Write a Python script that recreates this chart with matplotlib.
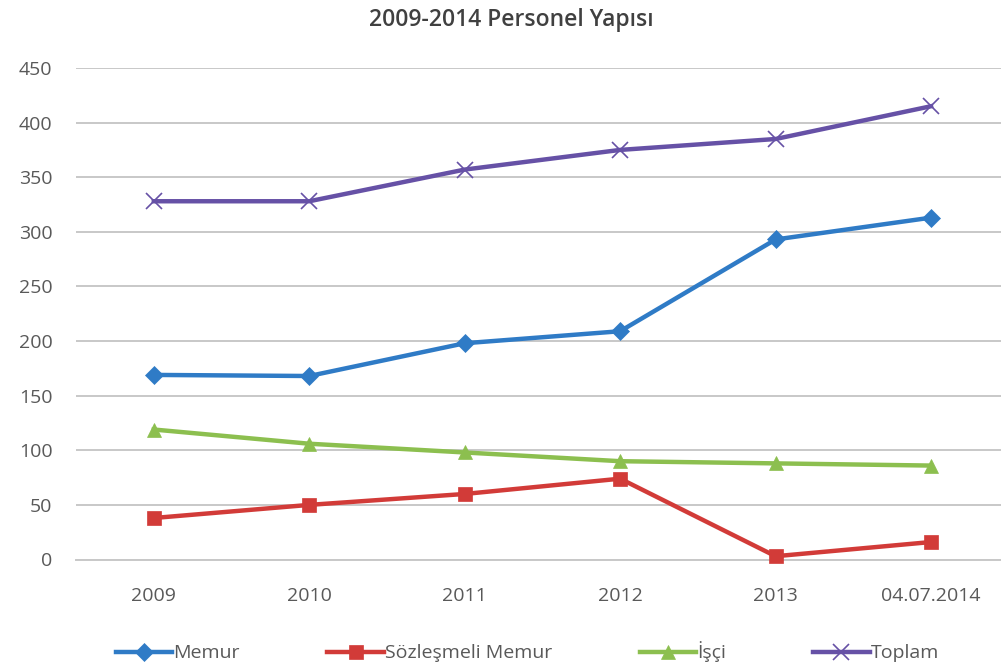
import matplotlib
matplotlib.use("Agg")
import matplotlib.pyplot as plt

categories = ["2009", "2010", "2011", "2012", "2013", "04.07.2014"]
memur = [169, 168, 198, 209, 293, 313]
sozlesmeli = [38, 50, 60, 74, 3, 16]
isci = [119, 106, 98, 90, 88, 86]
toplam = [328, 328, 357, 375, 385, 415]
series_names = ["Memur", "Sözleşmeli Memur", "İşçi", "Toplam"]
yticks = [0, 50, 100, 150, 200, 250, 300, 350, 400, 450]

plt.rcParams['font.family'] = ['Open Sans', 'DejaVu Sans']

fig = plt.figure(figsize=(10.01, 6.68), dpi=100)
ax = fig.add_axes([0.076, 1 - 559.5 / 668, 0.924, (559.5 - 68) / 668])

x = list(range(len(categories)))
styles = [
    (memur, '#2f7bc6', 'D', 9),
    (sozlesmeli, '#d23b38', 's', 10),
    (isci, '#8cbf4f', '^', 10),
    (toplam, '#6651a6', 'x', 11),
]
for (vals, col, mk, ms), name in zip(styles, series_names):
    ax.plot(x, vals, color=col, lw=3.2, marker=mk, markersize=ms,
            markeredgewidth=1.2 if mk == 'x' else 0.5, markeredgecolor=col,
            markerfacecolor=col, label=name, clip_on=False, zorder=3)

ax.set_xlim(-0.5, 5.45)
ax.set_ylim(0, 450)
ax.set_yticks(yticks)
ax.set_xticks(x)
ax.set_xticklabels(categories)
ax.grid(axis='y', color='#c8c8c8', lw=1.4)
ax.set_axisbelow(True)
for s in ['top', 'right', 'left']:
    ax.spines[s].set_visible(False)
ax.spines['bottom'].set_color('#c8c8c8')
ax.spines['bottom'].set_linewidth(1.4)
ax.tick_params(axis='both', length=0, labelsize=14, colors='#595959')
ax.tick_params(axis='y', pad=17)
ax.tick_params(axis='x', pad=20)

fig.text(0.511, 1 - 20 / 668, "2009-2014 Personel Yapısı", ha='center', va='center',
         fontsize=16.5, fontweight='semibold', color='#404040')

leg = fig.legend(loc='center', bbox_to_anchor=(0.527, 1 - 652 / 668), ncol=4, frameon=False,
                 fontsize=14, handlelength=2.9, handletextpad=0.05, columnspacing=4.5,
                 labelcolor='#595959')

fig.savefig("out.png", dpi=100, facecolor='white')
